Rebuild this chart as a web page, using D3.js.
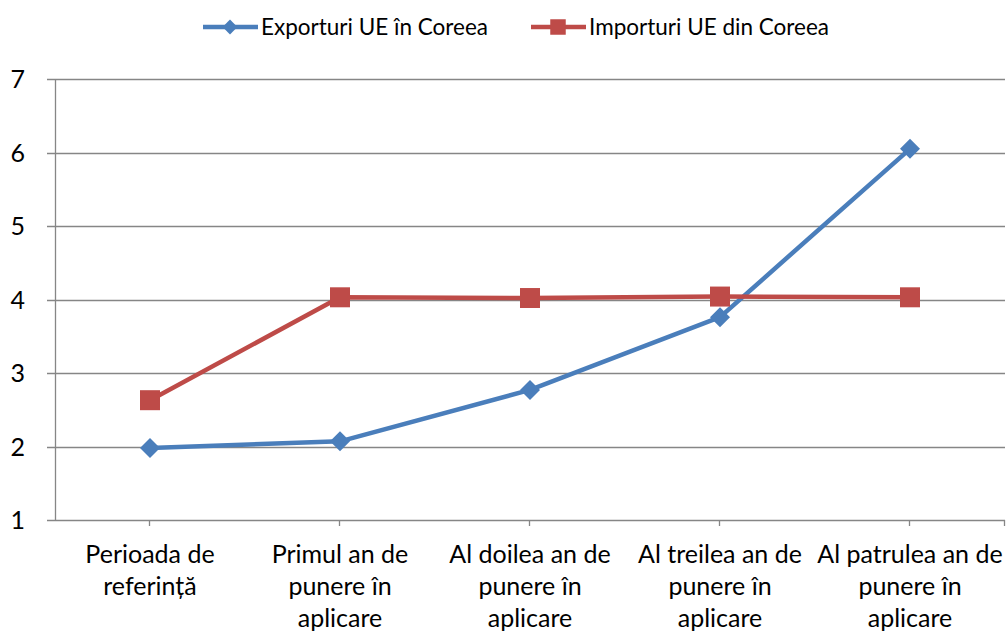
<!DOCTYPE html>
<html>
<head>
<meta charset="utf-8">
<script src="https://cdn.jsdelivr.net/npm/d3@7"></script>
<style>
  body { margin: 0; background: #fff; }
  svg text { font-family: Lato, "Open Sans", sans-serif; fill: #000; }
</style>
</head>
<body>
<svg width="1006" height="632"></svg>
<script>
const categories = [
    ["Perioada de", "referință"],
    ["Primul an de", "punere în", "aplicare"],
    ["Al doilea an de", "punere în", "aplicare"],
    ["Al treilea an de", "punere în", "aplicare"],
    ["Al patrulea an de", "punere în", "aplicare"]
];
const exportValues = [1.98, 2.07, 2.77, 3.76, 6.05];
const importValues = [2.63, 4.03, 4.02, 4.04, 4.03];
const yTicks = [1, 2, 3, 4, 5, 6, 7];
const seriesNames = ["Exporturi UE în Coreea", "Importuri UE din Coreea"];

const svg = d3.select("svg");
const margin = { left: 55, right: 1, top: 79, bottom: 112 };
const width = +svg.attr("width");
const height = +svg.attr("height");

const blue = "#4a7ebb";
const red = "#be4b48";
const grey = "#868686";
const axisFont = 25;
const legendFont = 22.5;

const x = d3.scaleBand()
    .domain(d3.range(categories.length))
    .range([margin.left, width - margin.right]);

const y = d3.scaleLinear()
    .domain([1, 7])
    .range([height - margin.bottom, margin.top]);

// gridlines
svg.append("g")
    .selectAll("line")
    .data(yTicks)
    .enter().append("line")
    .attr("x1", margin.left - 8)
    .attr("x2", width - margin.right)
    .attr("y1", d => Math.round(y(d)) + 0.5)
    .attr("y2", d => Math.round(y(d)) + 0.5)
    .attr("stroke", grey)
    .attr("stroke-width", 1.3);

// y axis line
svg.append("line")
    .attr("x1", margin.left + 0.5).attr("x2", margin.left + 0.5)
    .attr("y1", y(7)).attr("y2", y(1))
    .attr("stroke", grey).attr("stroke-width", 1.3);

// y tick labels
svg.append("g")
    .selectAll("text")
    .data(yTicks)
    .enter().append("text")
    .attr("x", 25)
    .attr("y", d => y(d))
    .attr("dy", "0.36em")
    .attr("text-anchor", "end")
    .style("font-size", axisFont + "px")
    .text(d => d);

// x tick marks (at category centres and right end)
const xTickPos = categories.map((c, i) => x(i) + x.bandwidth() / 2).concat([width - margin.right]);
svg.append("g")
    .selectAll("line")
    .data(xTickPos)
    .enter().append("line")
    .attr("x1", d => Math.round(d) - 0.5)
    .attr("x2", d => Math.round(d) - 0.5)
    .attr("y1", y(1))
    .attr("y2", y(1) + 6)
    .attr("stroke", grey)
    .attr("stroke-width", 1.3);

// x labels
const xLabels = svg.append("g")
    .selectAll("text")
    .data(categories)
    .enter().append("text")
    .attr("text-anchor", "middle")
    .style("font-size", axisFont + "px");
xLabels.selectAll("tspan")
    .data((d, i) => d.map(s => ({ s, i })))
    .enter().append("tspan")
    .attr("x", d => x(d.i) + x.bandwidth() / 2)
    .attr("y", (d, j) => 563 + j * 32)
    .text(d => d.s);

// series
const line = d3.line()
    .x((d, i) => x(i) + x.bandwidth() / 2)
    .y(d => y(d));

const series = [
    { name: seriesNames[0], values: exportValues, color: blue, rotate: 45, size: 200, legendSize: 110 },
    { name: seriesNames[1], values: importValues, color: red, rotate: 0, size: 400, legendSize: 240 }
];

series.forEach(s => {
    svg.append("path")
        .datum(s.values)
        .attr("d", line)
        .attr("fill", "none")
        .attr("stroke", s.color)
        .attr("stroke-width", 4.5)
        .attr("stroke-linejoin", "round");

    svg.append("g")
        .selectAll("path")
        .data(s.values)
        .enter().append("path")
        .attr("d", d3.symbol().type(d3.symbolSquare).size(s.size))
        .attr("transform", (d, i) => `translate(${x(i) + x.bandwidth() / 2},${y(d)}) rotate(${s.rotate})`)
        .attr("fill", s.color);
});

// legend
const legendItems = [
    { x: 203, s: series[0] },
    { x: 531, s: series[1] }
];
const legend = svg.append("g")
    .selectAll("g")
    .data(legendItems)
    .enter().append("g")
    .attr("transform", d => `translate(${d.x},27)`);
legend.append("line")
    .attr("x1", 0).attr("x2", 55)
    .attr("stroke", d => d.s.color)
    .attr("stroke-width", 4.5);
legend.append("path")
    .attr("d", d => d3.symbol().type(d3.symbolSquare).size(d.s.legendSize)())
    .attr("transform", d => `translate(27,0) rotate(${d.s.rotate})`)
    .attr("fill", d => d.s.color);
legend.append("text")
    .attr("x", 58)
    .attr("dy", "0.36em")
    .style("font-size", legendFont + "px")
    .text(d => d.s.name);
</script>
</body>
</html>
